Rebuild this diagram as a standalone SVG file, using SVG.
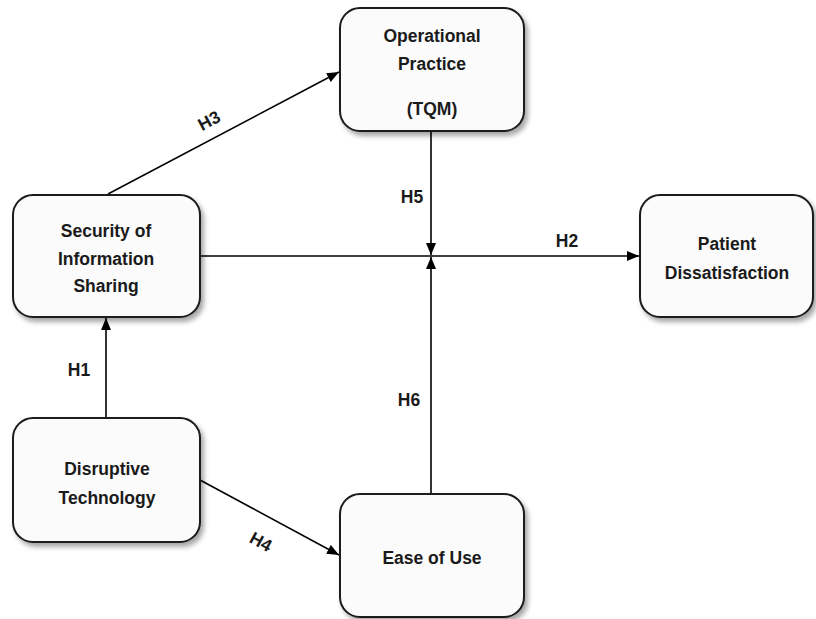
<svg xmlns="http://www.w3.org/2000/svg" width="816" height="619" viewBox="0 0 816 619">
<style>
.box{fill:#fbfbfb;stroke:#1a1a1a;stroke-width:2;filter:url(#sh)}
.t{font-family:"Liberation Sans",Arial,sans-serif;font-weight:bold;font-size:17.5px;fill:#1a1a1a;text-anchor:middle}
.c{stroke:#000;stroke-width:1.6;fill:none}
</style>
<defs>
<filter id="sh" x="-10%" y="-10%" width="125%" height="130%">
<feDropShadow dx="3" dy="4" stdDeviation="2.5" flood-color="#000" flood-opacity="0.35"/>
</filter>
<marker id="ah" viewBox="0 0 12 10" refX="12" refY="5" markerWidth="12" markerHeight="10" markerUnits="userSpaceOnUse" orient="auto">
<path d="M0,0 L12,5 L0,10 Z" fill="#000"/>
</marker>
</defs>
<g id="connectors">
<line class="c" x1="108" y1="194" x2="339" y2="72" marker-end="url(#ah)"/>
<line class="c" x1="106" y1="418" x2="106" y2="318" marker-end="url(#ah)"/>
<line class="c" x1="200" y1="480" x2="339" y2="555" marker-end="url(#ah)"/>
<line class="c" x1="200" y1="256" x2="639" y2="256" marker-end="url(#ah)"/>
<line class="c" x1="431" y1="131" x2="431" y2="255" marker-end="url(#ah)"/>
<line class="c" x1="431" y1="494" x2="431" y2="257" marker-end="url(#ah)"/>
<text class="t" transform="translate(212,126) rotate(-28)">H3</text>
<text class="t" x="79" y="376">H1</text>
<text class="t" x="412" y="203">H5</text>
<text class="t" x="567" y="247">H2</text>
<text class="t" x="409" y="406">H6</text>
<text class="t" transform="translate(258,547) rotate(28.5)">H4</text>
</g>
<g id="operational">
<rect class="box" x="340" y="8" width="184" height="123" rx="20"/>
<text class="t" x="432" y="42">Operational</text>
<text class="t" x="432" y="70">Practice</text>
<text class="t" x="432" y="115">(TQM)</text>
</g>
<g id="security">
<rect class="box" x="13" y="195" width="187" height="122" rx="20"/>
<text class="t" x="106" y="237">Security of</text>
<text class="t" x="106" y="265">Information</text>
<text class="t" x="106" y="292">Sharing</text>
</g>
<g id="patient">
<rect class="box" x="640" y="195" width="173" height="122" rx="20"/>
<text class="t" x="727" y="250">Patient</text>
<text class="t" x="727" y="279">Dissatisfaction</text>
</g>
<g id="disruptive">
<rect class="box" x="13" y="418" width="187" height="124" rx="20"/>
<text class="t" x="107" y="475">Disruptive</text>
<text class="t" x="107" y="504">Technology</text>
</g>
<g id="ease">
<rect class="box" x="340" y="494" width="184" height="123" rx="20"/>
<text class="t" x="432" y="564">Ease of Use</text>
</g>
</svg>
